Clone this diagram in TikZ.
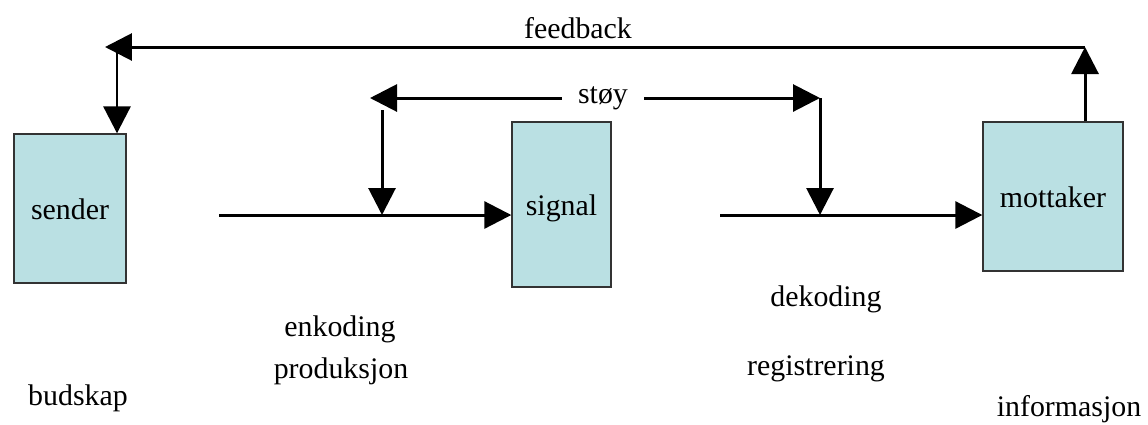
\documentclass[tikz,border=0pt]{standalone}
\usepackage{fontspec}
\setmainfont{Liberation Serif}
\usetikzlibrary{arrows.meta,positioning}
\definecolor{boxfill}{RGB}{186,224,227}

\begin{document}
\begin{tikzpicture}[x=0.02cm,y=-0.02cm,line width=1.7pt,
        >={Triangle[length=0.54cm,width=0.54cm]},
        every node/.style={font=\fontsize{17}{20}\selectfont},
        block/.style={draw=black!80,line width=0.8pt,fill=boxfill,inner sep=0pt,
            text height=0.52cm,text depth=0.1cm}]
        \useasboundingbox (0,0) rectangle (1148,424);
        % the three boxes
        \node[block,minimum width=2.24cm,minimum height=2.98cm] (sender)   at (70,208.5)  {sender};
        \node[block,minimum width=1.98cm,minimum height=3.3cm]  (signal)   at (561.5,204.5) {signal};
        \node[block,minimum width=2.8cm,minimum height=2.98cm]  (mottaker) at (1053,196.5) {mottaker};
        % corners of the feedback and noise lines
        \coordinate (fb_l) at (105,47);
        \coordinate (fb_r) at (1085,47);
        \coordinate (fb_d) at (117,53);
        \node[inner xsep=0.3cm] (stoy) at (603,98) {støy};
        \coordinate (st_l) at (370,98);
        \coordinate (st_r) at (820,98);
        \coordinate (st_d) at (382,110);
        \coordinate (in_a) at (382,215);
        \coordinate (in_b) at (820,215);
        \coordinate (enc) at (219,215);
        \coordinate (dec) at (720,215);
        \node (feedback) at (578,28) {feedback};
        \path[->]
        (mottaker.north -| fb_r) edge (fb_r)
        (fb_r) edge (fb_l)
        (fb_d) edge (sender.north -| fb_d)
        (stoy) edge (st_l)
        (stoy) edge (st_r)
        (st_d) edge (in_a)
        (st_r) edge (in_b)
        (enc) edge (enc -| signal.west)
        (dec) edge (dec -| mottaker.west);
        % labels under the channel
        \node (budskap)      at (78,398)   {budskap};
        \node (enkoding)     at (340,329)  {enkoding};
        \node (produksjon)   at (341,371)  {produksjon};
        \node (dekoding)     at (826,299)  {dekoding};
        \node (registrering) at (816,369)  {registrering};
        \node (informasjon)  at (1069,409) {informasjon};
    \end{tikzpicture}
\end{document}
